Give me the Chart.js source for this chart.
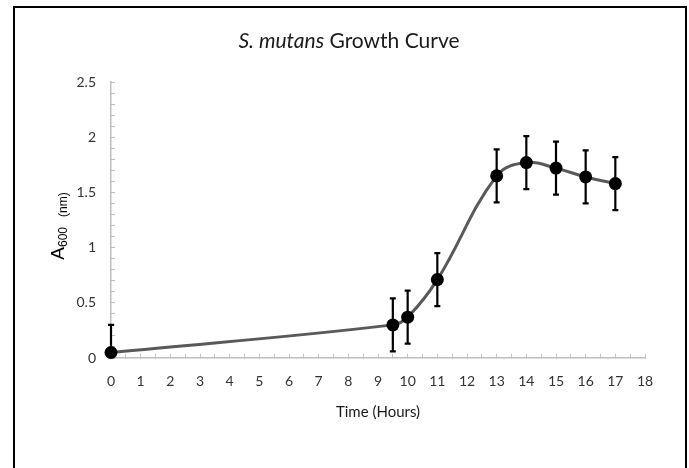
<!DOCTYPE html>
<html>
<head>
<meta charset="utf-8">
<script src="https://cdn.jsdelivr.net/npm/chart.js@4.4.1/dist/chart.umd.min.js"></script>
<style>
  html, body { margin: 0; padding: 0; background: #fff; overflow: hidden; }
  #wrap { position: relative; width: 689px; height: 468px; }
  #frame { position: absolute; left: 13px; top: 6px; width: 670px; height: 480px;
           border: 2px solid #000; border-bottom: none; pointer-events: none; }
  canvas { position: absolute; left: 0; top: 0; }
</style>
</head>
<body>
<div id="wrap">
  <canvas id="growthCurve" width="689" height="468"></canvas>
  <div id="frame"></div>
</div>
<script>
// S. mutans growth curve data
const timeHours = [0, 9.5, 10, 11, 13, 14, 15, 16, 17];
const absorbance = [0.05, 0.30, 0.37, 0.71, 1.65, 1.77, 1.72, 1.64, 1.58];
const errorValues = [0.25, 0.24, 0.24, 0.24, 0.24, 0.24, 0.24, 0.24, 0.24];

const tickColor = '#333333';
const axisGray = '#bfbfbf';

// error bars, clipped to the plot vertically only
const errorBarPlugin = {
    id: 'errorBars',
    afterDatasetsDraw(chart) {
        const ctx = chart.ctx;
        const xs = chart.scales.x, ys = chart.scales.y;
        const area = chart.chartArea;
        ctx.save();
        ctx.beginPath();
        ctx.rect(0, area.top - 10, chart.width, area.bottom - area.top + 10);
        ctx.clip();
        ctx.strokeStyle = '#000';
        ctx.lineWidth = 2.2;
        timeHours.forEach((t, i) => {
            const x = xs.getPixelForValue(t);
            const yTop = ys.getPixelForValue(absorbance[i] + errorValues[i]);
            const yBot = ys.getPixelForValue(absorbance[i] - errorValues[i]);
            ctx.beginPath();
            ctx.moveTo(x, yTop); ctx.lineTo(x, yBot);
            ctx.moveTo(x - 3, yTop); ctx.lineTo(x + 3, yTop);
            ctx.moveTo(x - 3, yBot); ctx.lineTo(x + 3, yBot);
            ctx.stroke();
        });
        ctx.restore();
    }
};

// title with italic species name, and y axis title with subscripts
const textPlugin = {
    id: 'titles',
    afterDraw(chart) {
        const ctx = chart.ctx;
        const area = chart.chartArea;
        ctx.save();
        // chart title
        const italic = 'italic 21px Lato';
        const normal = '21px Lato';
        ctx.font = italic;
        const w1 = ctx.measureText('S. mutans').width;
        ctx.font = normal;
        const w2 = ctx.measureText(' Growth Curve').width;
        let x = 349 - (w1 + w2) / 2;
        ctx.fillStyle = '#1a1a1a';
        ctx.textBaseline = 'middle';
        ctx.font = italic;
        ctx.fillText('S. mutans', x, 41);
        ctx.font = normal;
        ctx.fillText(' Growth Curve', x + w1, 41);

        // y axis title A600 (nm)
        ctx.translate(64, (area.top + area.bottom) / 2 + 6);
        ctx.rotate(-Math.PI / 2);
        ctx.textBaseline = 'alphabetic';
        ctx.fillStyle = '#000';
        const fA = '19px "Liberation Sans"';
        const fSub = '12px "Liberation Sans"';
        const fUnit = '12px "Liberation Sans"';
        ctx.font = fA;
        const wA = ctx.measureText('A').width;
        ctx.font = fSub;
        const wS = ctx.measureText('600').width;
        ctx.font = fUnit;
        const wN = ctx.measureText('(nm)').width;
        const gap = 10;
        const total = wA + wS + gap + wN;
        let px = -total / 2;
        ctx.font = fA;
        ctx.fillText('A', px, 0);
        px += wA;
        ctx.font = fSub;
        ctx.fillText('600', px, 3);
        px += wS + gap;
        ctx.font = fUnit;
        ctx.fillText('(nm)', px, 3);
        ctx.restore();
    }
};

const isMultiple = (v, step) => Math.abs(v / step - Math.round(v / step)) < 1e-6;

new Chart(document.getElementById('growthCurve'), {
    type: 'scatter',
    data: {
        datasets: [{
            label: 'Growth',
            data: timeHours.map((t, i) => ({ x: t, y: absorbance[i] })),
            showLine: true,
            borderColor: '#595959',
            borderWidth: 3,
            tension: 0.4,
            pointRadius: 6.5,
            pointBackgroundColor: '#000',
            pointBorderColor: '#000',
            pointBorderWidth: 0,
            clip: false
        }]
    },
    options: {
        responsive: false,
        animation: false,
        events: [],
        layout: { padding: { left: 0, top: 82, right: 44, bottom: 0 } },
        plugins: { legend: { display: false }, tooltip: { enabled: false } },
        scales: {
            x: {
                type: 'linear',
                min: 0, max: 18,
                afterFit(scale) { scale.height = 110; },
                border: { color: axisGray, width: 1.5 },
                grid: { drawOnChartArea: false, drawTicks: true, tickLength: -4, color: axisGray, lineWidth: 1 },
                ticks: {
                    stepSize: 0.5, autoSkip: false, maxRotation: 0, padding: 19,
                    color: tickColor, font: { family: 'Lato', size: 14 },
                    callback: v => isMultiple(v, 1) ? String(Math.round(v)) : ''
                },
                title: {
                    display: true, text: 'Time (Hours)', color: '#1a1a1a',
                    font: { family: 'Lato', size: 15 },
                    padding: { top: 0, bottom: 47 }
                }
            },
            y: {
                min: 0, max: 2.5,
                afterFit(scale) { scale.width = 111; },
                border: { color: axisGray, width: 1.5 },
                grid: { drawOnChartArea: false, drawTicks: true, tickLength: -4, color: axisGray, lineWidth: 1 },
                ticks: {
                    stepSize: 0.1, autoSkip: false, padding: 19,
                    color: tickColor, font: { family: 'Lato', size: 14 },
                    callback: v => isMultiple(v, 0.5) ? String(Math.round(v * 10) / 10) : ''
                }
            }
        }
    },
    plugins: [errorBarPlugin, textPlugin]
});
</script>
</body>
</html>
